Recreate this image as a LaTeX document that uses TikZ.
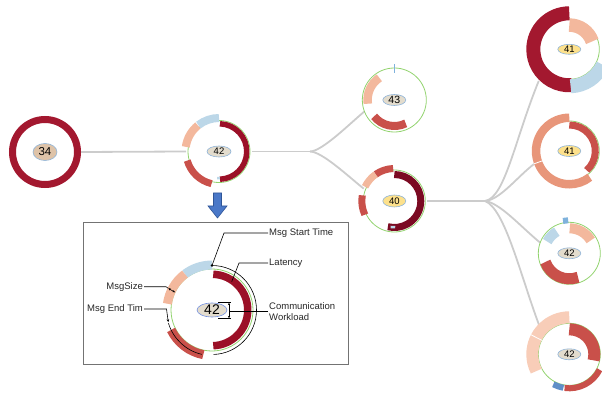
\documentclass[tikz,border=0pt]{standalone}
\usepackage{fontspec}
\setmainfont{Liberation Sans}
\usetikzlibrary{shapes.geometric,arrows.meta}
\definecolor{crim}{HTML}{A3182F}
\definecolor{lat}{HTML}{9B1027}
\definecolor{maroon}{HTML}{7B0A22}
\definecolor{redm}{HTML}{C9504A}
\definecolor{salmon}{HTML}{E8967A}
\definecolor{peach}{HTML}{F3B89D}
\definecolor{lpeach}{HTML}{F8CDB8}
\definecolor{lblue}{HTML}{BCD7E8}
\definecolor{mblue}{HTML}{7FB2DC}
\definecolor{dblue}{HTML}{5F8FC8}
\definecolor{grn}{HTML}{92D36E}
\definecolor{lnk}{HTML}{CCCCCC}
\definecolor{beige}{HTML}{E3DCCD}
\definecolor{tan}{HTML}{DEC3A8}
\definecolor{yel}{HTML}{FDE18C}
\definecolor{tagedge}{HTML}{8FB4D9}
\definecolor{arrowblue}{HTML}{4A78C8}
\definecolor{arrowedge}{HTML}{2F5597}
\newcommand{\ringseg}[6]{\draw[#2, line width={(#6)-(#5)}] (#1.center) ++(#3:{((#5)+(#6))/2}) arc[start angle=#3, end angle=#4, radius={((#5)+(#6))/2}];}
\newcommand{\greenring}[2]{\draw[draw=grn, line width=0.8] (#1.center) circle[radius=#2];}
\newcommand{\radmark}[5]{\draw[#2, line width=#5] (#1.center) ++(#3:#4) -- ++(#3:{(#4)*0.0+10});}
\begin{document}
\begin{tikzpicture}[x=1pt,y=1pt,
  hub/.style={circle, inner sep=0pt, outer sep=0pt, minimum size=#1},
  link/.style={draw=lnk, line width=1.8},
  numtag/.style={ellipse, draw=tagedge, line width=0.6, fill=#1, inner sep=0pt, minimum width=23, minimum height=11, font=\fontsize{9.5}{10}\selectfont},
  ann/.style={draw=black, line width=0.6},
  txt/.style={font=\fontsize{9.5}{11}\selectfont, text=black!85, inner sep=1pt},
  tip/.style={-{Stealth[length=3pt,width=2.6pt]}}
]
\useasboundingbox (0,0) rectangle (602,394);

% hub nodes
\node[hub=72] (n34) at (45,242) {};
\node[hub=66] (n42a) at (219,242.5) {};
\node[hub=64] (n43) at (394.3,294) {};
\node[hub=66] (n40) at (394.3,193) {};
\node[hub=88] (n41a) at (569.3,344.7) {};
\node[hub=74] (n41b) at (569.3,243) {};
\node[hub=62] (n42c) at (569.3,140.7) {};
\node[hub=84] (n42d) at (569.3,39.7) {};
\coordinate (s1) at (310,242.5);
\coordinate (s2) at (485,193);

% connectors
\draw[link] (n34.east) -- (n42a.west);
\draw[link] (n42a.east) -- (s1);
\draw[link] (s1) .. controls (322,242.5) and (350,270.6) .. (n43.201);
\draw[link] (s1) .. controls (322,242.5) and (349,217) .. (n40.158);
\draw[link] (n40.east) -- (s2);
\draw[link] (s2) .. controls (505,196) and (515,255) .. (n41a.226);
\draw[link] (s2) .. controls (500,194) and (518,218) .. (n41b.200);
\draw[link] (s2) .. controls (500,191) and (520,168) .. (n42c.160);
\draw[link] (s2) .. controls (505,185) and (520,120) .. (n42d.136);

% node 34
\ringseg{n34}{crim}{0}{360}{29}{36}
% node 42a
\greenring{n42a}{31}
\ringseg{n42a}{lat}{88}{-88}{25}{30.5}
\ringseg{n42a}{lblue}{90}{128}{29.5}{37.5}
\ringseg{n42a}{peach}{129}{172}{29.5}{37.5}
\ringseg{n42a}{redm}{196}{257}{29.5}{36.5}
\ringseg{n42a}{lblue}{266}{272}{25.5}{28}
% node 43
\greenring{n43}{32}
\draw[draw=mblue, line width=0.8] (n43.center) ++(90:27) -- ++(90:9);
\ringseg{n43}{peach}{124}{188}{22.5}{31}
\ringseg{n43}{redm}{219}{296}{22}{30}
% node 40
\greenring{n40}{31}
\ringseg{n40}{maroon}{90}{-104}{23}{30}
\ringseg{n40}{redm}{92}{125}{29}{36}
\ringseg{n40}{peach}{125}{154}{29}{36}
\ringseg{n40}{redm}{170}{205}{29}{36}
\ringseg{n40}{lblue}{262}{272}{25}{27.5}
% node 41a
\greenring{n41a}{30}
\ringseg{n41a}{crim}{90}{273}{29}{43}
\ringseg{n41a}{peach}{19}{90}{17.5}{31}
\ringseg{n41a}{lblue}{-88}{-25}{30}{44}
% node 41b
\greenring{n41b}{30}
\ringseg{n41b}{salmon}{90}{308}{29}{37.5}
\ringseg{n41b}{redm}{-48}{90}{22.5}{29.5}
\draw[draw=white, line width=0.8] (n41b.center) ++(200:28.5) -- ++(200:9.5);
% node 42c
\greenring{n42c}{31}
\ringseg{n42c}{peach}{31}{89}{20}{30}
\ringseg{n42c}{lblue}{120}{152}{20}{30}
\ringseg{n42c}{mblue}{92}{101}{30}{36}
\ringseg{n42c}{redm}{200}{290}{20}{31}
% node 42d
\greenring{n42d}{31}
\ringseg{n42d}{redm}{-14}{90}{19}{31}
\ringseg{n42d}{redm}{-98}{-27}{31}{37}
\ringseg{n42d}{dblue}{-118}{-100}{31}{37}
\ringseg{n42d}{lpeach}{90}{207}{31}{43}
\draw[draw=white, line width=0.8] (n42d.center) ++(153:30.5) -- ++(153:13);

% number tags
\node[numtag=tan, minimum width=24, minimum height=17, font=\fontsize{11.5}{12}\selectfont] (t34) at (n34.center) {34};
\node[numtag=beige, minimum width=24] (t42a) at (n42a.center) {42};
\node[numtag=beige, font=\fontsize{10.5}{11}\selectfont] (t43) at (n43.center) {43};
\node[numtag=yel, minimum height=12] (t40) at (n40.center) {40};
\node[numtag=yel, minimum height=10] (t41a) at (n41a.center) {41};
\node[numtag=yel] (t41b) at (n41b.center) {41};
\node[numtag=beige] (t42c) at (n42c.center) {42};
\node[numtag=beige] (t42d) at (n42d.center) {42};

% down arrow
\draw[fill=arrowblue, draw=arrowedge, line width=0.6] (213.5,201) -- (221.5,201) -- (221.5,188) -- (227,188) -- (217.5,176) -- (208,188) -- (213.5,188) -- cycle;

% legend box
\draw[draw=black!55, line width=0.8] (83,30) rectangle (348,172);
\node[hub=82] (lg) at (212,84) {};
\greenring{lg}{41}
\ringseg{lg}{lat}{88}{-88}{32}{39.5}
\ringseg{lg}{lblue}{90}{127}{40.5}{49.5}
\ringseg{lg}{peach}{127}{172}{40.5}{49.5}
\ringseg{lg}{redm}{206}{259}{41}{50}
\draw[ann] (lg.center) ++(90:44.5) arc[start angle=90, end angle=-88, radius=44.5];
\draw[ann] (lg.center) ++(197:45.5) arc[start angle=197, end angle=257, radius=45.5];
\node[numtag=beige, draw=tagedge!80!blue, minimum width=30, minimum height=14, font=\fontsize{14}{14}\selectfont] (tlg) at (lg.center) {42};

% annotations
\coordinate (dStart) at (212,128.5);
\fill (dStart) circle[radius=1.3];
\node[txt, anchor=west] (tStart) at (268,161) {Msg Start Time};
\draw[ann] (tStart.west) -- (224,161) -- (dStart);

\coordinate (pLat) at (231.7,112.3);
\node[txt, anchor=west] (tLat) at (268,131) {Latency};
\draw[ann] (tLat.west) -- (239,131) -- (pLat);

\coordinate (pSizeA) at (168.3,105.7);
\coordinate (pSizeB) at (175,101.7);
\node[txt, anchor=east] (tSize) at (144,107.3) {MsgSize};
\draw[ann] (tSize.east) -- (166,107.3) -- (pSizeA);
\draw[ann, {Stealth[length=2.5pt,width=2.2pt]}-{Stealth[length=2.5pt,width=2.2pt]}] (pSizeA) -- (pSizeB);

\coordinate (pEnd) at (168.3,71.8);
\node[txt, anchor=east] (tEnd) at (144,85) {Msg End Tim};
\draw[ann, tip] (tEnd.east) -- (166.5,85) -- (pEnd);

\coordinate (pW) at (229,82.5);
\node[txt, anchor=west, align=left] (tCW) at (268,82.5) {Communication\\Workload};
\draw[ann] (tCW.west) -- (pW);
\draw[ann, {Stealth[length=2.5pt,width=2.2pt]}-{Stealth[length=2.5pt,width=2.2pt]}] (229,91.3) -- (229,75.7);
\draw[ann] (218,91.3) -- (231,91.3);
\draw[ann] (218,75.7) -- (231,75.7);
\end{tikzpicture}
\end{document}
